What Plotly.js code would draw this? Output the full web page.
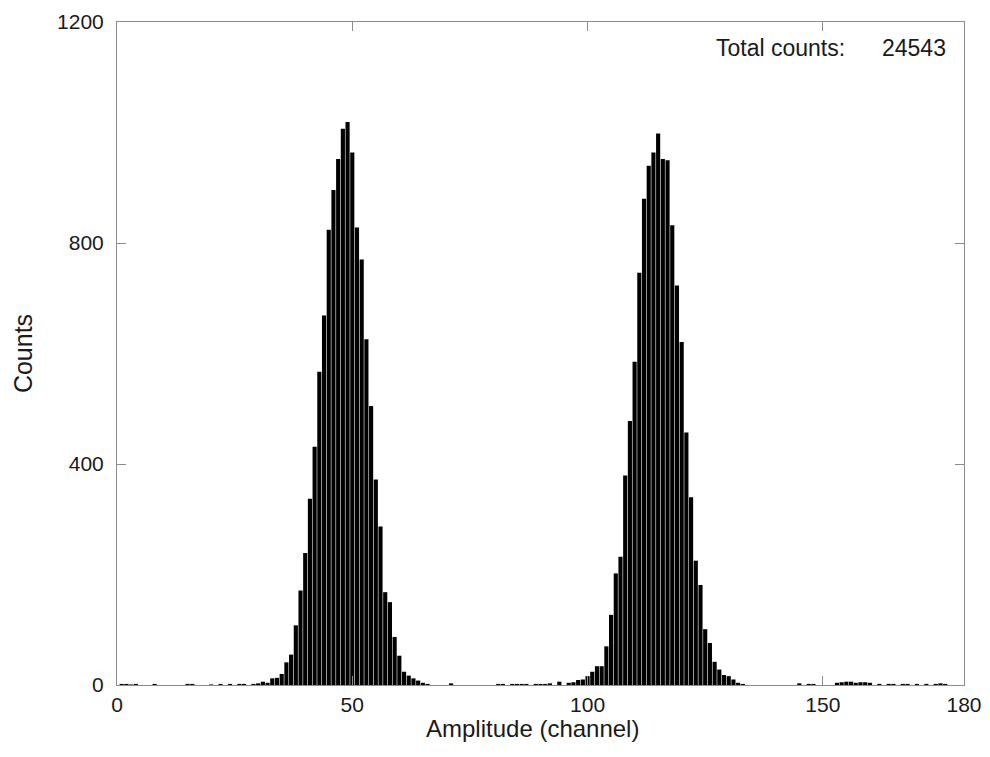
<!DOCTYPE html>
<html>
<head>
<meta charset="utf-8">
<script src="https://cdn.plot.ly/plotly-3.0.1.min.js"></script>
<style>html,body{margin:0;padding:0;background:#fff;}#chart{width:990px;height:757px;}</style>
</head>
<body>
<div id="chart"></div>
<script>
// Histogram channels (non-empty bins) and their counts
const channels = [1,2,3,4,8,15,16,20,22,24,26,27,29,30,
  31,32,33,34,35,36,37,38,39,40,41,42,43,44,45,46,47,48,49,50,
  51,52,53,54,55,56,57,58,59,60,61,62,63,64,65,66,
  71,81,82,84,85,86,87,89,90,91,92,94,96,97,98,99,100,
  101,102,103,104,105,106,107,108,109,110,111,112,113,114,115,116,117,118,119,120,
  121,122,123,124,125,126,127,128,129,130,131,132,133,
  145,147,148,153,154,155,156,157,158,159,160,162,164,165,167,168,170,172,174,175,176];
const counts = [2,2,1,2,2,2,2,1,2,2,2,2,2,3,
  6,4,12,13,20,41,55,108,171,239,337,431,567,669,824,896,952,1007,1019,964,
  828,770,626,505,372,287,168,150,87,53,24,17,12,8,4,2,
  3,2,2,2,2,2,2,2,2,2,3,6,4,5,9,10,16,
  24,34,34,70,127,202,232,379,478,585,746,880,940,964,998,952,950,832,723,621,
  457,340,225,181,101,76,42,28,18,16,10,4,2,
  3,2,2,4,5,6,6,4,5,5,4,2,2,2,2,2,2,2,2,3,2];
const xTicks = [0,50,100,150,180];
const yTicks = [0,400,800,1200];
const xTitle = 'Amplitude (channel)';
const yTitle = 'Counts';
const totalLabel = 'Total counts:';
const totalValue = '24543';

const font = 'Liberation Sans, Arial, Helvetica, sans-serif';
const axisCol = '#8c8c8c';
const textCol = '#1a1a1a';

const trace = {
  type: 'bar',
  x: channels,
  y: counts,
  width: 0.88,
  marker: {color: '#000000', line: {width: 0}},
  hoverinfo: 'x+y'
};

const layout = {
  width: 990, height: 757,
  margin: {l: 117, r: 26, t: 22, b: 72},
  paper_bgcolor: '#ffffff', plot_bgcolor: '#ffffff',
  showlegend: false,
  font: {family: font, color: textCol},
  xaxis: {
    range: [0, 180], tickvals: xTicks, ticktext: xTicks.map(String),
    ticks: 'inside', ticklen: 9, tickcolor: axisCol, tickwidth: 1,
    showline: true, linecolor: axisCol, linewidth: 1, mirror: 'ticks',
    showgrid: false, zeroline: false,
    tickfont: {family: font, size: 21, color: textCol},
    ticklabelstandoff: 1
  },
  yaxis: {
    range: [0, 1200], tickvals: yTicks, ticktext: yTicks.map(String),
    ticks: 'inside', ticklen: 9, tickcolor: axisCol, tickwidth: 1,
    showline: true, linecolor: axisCol, linewidth: 1, mirror: 'ticks',
    showgrid: false, zeroline: false,
    tickfont: {family: font, size: 21, color: textCol},
    ticklabelstandoff: 8,
    title: {text: yTitle, font: {family: font, size: 25, color: textCol}, standoff: 17}
  },
  annotations: [
    {xref: 'paper', yref: 'paper', x: 0.49, y: -0.066, xanchor: 'center', yanchor: 'middle',
     text: xTitle, showarrow: false, font: {family: font, size: 24, color: textCol}},
    {xref: 'paper', yref: 'paper', x: 0.7047, y: 0.961, xanchor: 'left', yanchor: 'middle',
     text: totalLabel, showarrow: false, font: {family: font, size: 23, color: textCol}},
    {xref: 'paper', yref: 'paper', x: 0.981, y: 0.961, xanchor: 'right', yanchor: 'middle',
     text: totalValue, showarrow: false, font: {family: font, size: 23, color: textCol}}
  ]
};

Plotly.newPlot('chart', [trace], layout, {displayModeBar: false, staticPlot: true});
</script>
</body>
</html>
